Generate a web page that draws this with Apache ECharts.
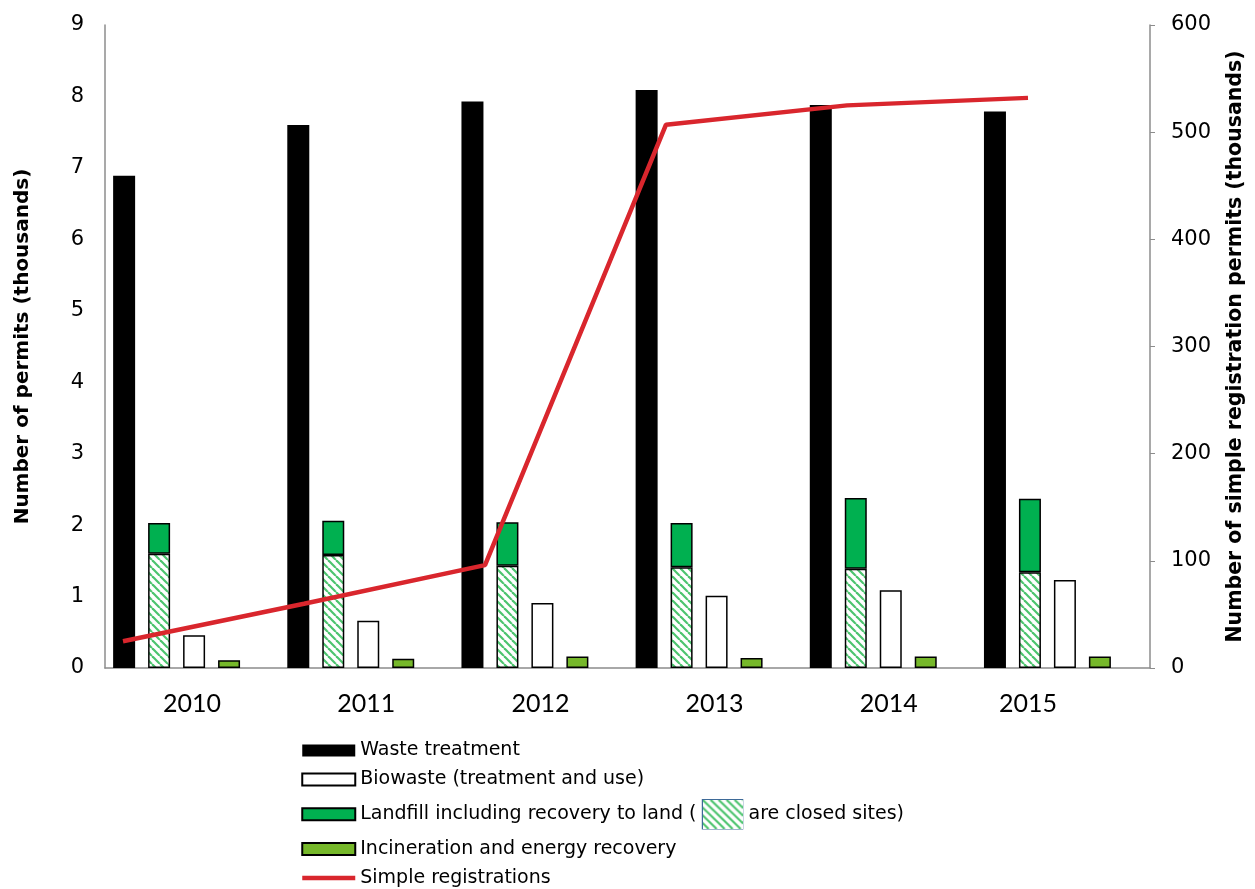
<!DOCTYPE html>
<html><head><meta charset="utf-8">
<script src="https://cdn.jsdelivr.net/npm/echarts@6/dist/echarts.min.js"></script>
<style>html,body{margin:0;padding:0;background:#fff}#c{width:1255px;height:889px}</style>
</head><body><div id="c"></div>
<script>
const years = ['2010','2011','2012','2013','2014','2015'];
const wasteTreatment = [6.89, 7.60, 7.93, 8.09, 7.88, 7.79];
const landfillTotal = [2.03, 2.06, 2.04, 2.03, 2.38, 2.37];
const landfillClosed = [1.60, 1.58, 1.43, 1.41, 1.39, 1.34];
const biowaste = [0.46, 0.66, 0.91, 1.01, 1.09, 1.23];
const incineration = [0.11, 0.13, 0.16, 0.14, 0.16, 0.16];
const simpleRegistrations = [25, 60, 96, 507, 525, 532];
const leftTicks = [0,1,2,3,4,5,6,7,8,9];
const rightTicks = [0,100,200,300,400,500,600];

const landfillOpen = landfillTotal.map((t,i)=>+(t - landfillClosed[i]).toFixed(2));

function hatch(w,h){
  const c = document.createElement('canvas');
  c.width = w; c.height = h;
  const g = c.getContext('2d');
  g.fillStyle = '#ffffff'; g.fillRect(0,0,w,h);
  g.strokeStyle = '#4cc46e'; g.lineWidth = 2.2;
  for (let k=-Math.ceil(h/8)-1;k<=Math.ceil(w/8)+1;k++){ g.beginPath(); g.moveTo(k*8,0); g.lineTo(k*8+h,h); g.stroke(); }
  return c;
}
const pat = hatch(8,8);
const patBox = hatch(40,30);

const F = 'DejaVu Sans, Verdana, sans-serif';
const chart = echarts.init(document.getElementById('c'));
const axisGray = '#8c8c8c';
chart.setOption({
  animation:false,
  grid:[
    {left:105,right:105,top:25,bottom:221},
    {left:123,right:227,top:25,bottom:221}
  ],
  legend:{
    orient:'vertical', left:295, top:736, height:160, itemWidth:53, itemHeight:12, itemGap:10,
    data:[
      {name:'Waste treatment', icon:'rect'},
      {name:'Biowaste (treatment and use)', icon:'rect'},
      {name:'Landfill including recovery to land', icon:'rect'},
      {name:'Incineration and energy recovery', icon:'rect'},
      {name:'Simple registrations', itemStyle:{color:'rgba(0,0,0,0)', borderWidth:0}, lineStyle:{width:4.5, color:'#d9262d'}}
    ],
    formatter:function(n){ return n==='Landfill including recovery to land' ? 'Landfill including recovery to land ( {box|} are closed sites)' : n; },
    textStyle:{fontFamily:F, fontSize:19, color:'#000',
      rich:{box:{width:40,height:29,backgroundColor:{image:patBox},borderColor:'#3e6a98',borderWidth:1.5}}}
  },
  xAxis:[
    {type:'category', gridIndex:0, data:years,
     axisLine:{lineStyle:{color:axisGray,width:1.5}}, axisTick:{show:false},
     axisLabel:{margin:23, fontFamily:'Lato, Open Sans', fontSize:25, color:'#000',
       formatter:function(v,i){ return i===5 ? '{s|'+v+'}' : v; },
       rich:{s:{fontFamily:'Lato, Open Sans', fontSize:25, color:'#000', padding:[0,70,0,0]}}}},
    {type:'category', gridIndex:1, data:years, boundaryGap:false, show:false}
  ],
  yAxis:[
    {type:'value', gridIndex:0, min:0, max:9, interval:1,
     name:'Number of permits (thousands)', nameLocation:'middle', nameGap:72,
     nameTextStyle:{fontFamily:F, fontSize:20, fontWeight:'bold', color:'#000'},
     axisLine:{show:true, lineStyle:{color:axisGray,width:1.5}}, axisTick:{show:false}, splitLine:{show:false},
     axisLabel:{margin:21, fontFamily:F, fontSize:21, color:'#000',
       formatter:function(v){ return leftTicks.indexOf(v)>=0 ? String(v) : ''; }}},
    {type:'value', gridIndex:0, position:'right', min:0, max:600, interval:100,
     name:'Number of simple registration permits (thousands)', nameLocation:'middle', nameGap:75, nameRotate:90,
     nameTextStyle:{fontFamily:F, fontSize:20.5, fontWeight:'bold', color:'#000'},
     axisLine:{show:true, lineStyle:{color:axisGray,width:1.5}}, axisTick:{show:true, length:5, lineStyle:{color:axisGray}}, splitLine:{show:false},
     axisLabel:{margin:21, fontFamily:F, fontSize:21, color:'#000',
       formatter:function(v){ return rightTicks.indexOf(v)>=0 ? String(v) : ''; }}},
    {type:'value', gridIndex:1, min:0, max:600, show:false}
  ],
  series:[
    {name:'Waste treatment', type:'bar', xAxisIndex:0, yAxisIndex:0, barWidth:22, barGap:'59%', data:wasteTreatment,
     itemStyle:{color:'#000'}},
    {name:'Closed sites', type:'bar', stack:'lf', xAxisIndex:0, yAxisIndex:0, barWidth:22, data:landfillClosed,
     itemStyle:{color:{image:pat, repeat:'repeat'}, borderColor:'#000', borderWidth:1.5}},
    {name:'Landfill including recovery to land', type:'bar', stack:'lf', xAxisIndex:0, yAxisIndex:0, barWidth:22, data:landfillOpen,
     itemStyle:{color:'#00b050', borderColor:'#000', borderWidth:1.5}},
    {name:'Biowaste (treatment and use)', type:'bar', xAxisIndex:0, yAxisIndex:0, barWidth:22, data:biowaste,
     itemStyle:{color:'#fff', borderColor:'#000', borderWidth:1.5}},
    {name:'Incineration and energy recovery', type:'bar', xAxisIndex:0, yAxisIndex:0, barWidth:22, data:incineration,
     itemStyle:{color:'#76b82a', borderColor:'#000', borderWidth:1.5}},
    {name:'spacer', type:'bar', xAxisIndex:0, yAxisIndex:0, barWidth:18, data:years.map(()=>null), silent:true},
    {name:'Simple registrations', type:'line', xAxisIndex:1, yAxisIndex:2, data:simpleRegistrations,
     symbol:'none', lineStyle:{color:'#d9262d', width:4.5}, itemStyle:{color:'#d9262d'}, z:10}
  ]
});
</script></body></html>
